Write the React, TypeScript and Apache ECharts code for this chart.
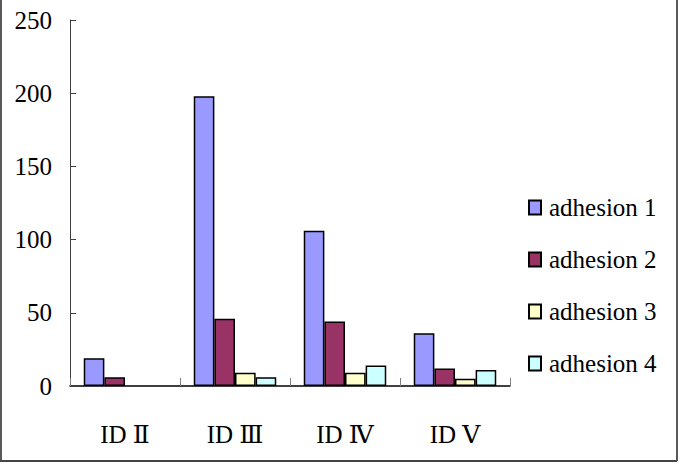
import React, { useEffect, useRef } from "react";
import * as echarts from "echarts";

const categories = ["ID Ⅱ", "ID Ⅲ", "ID Ⅳ", "ID Ⅴ"];
const seriesNames = ["adhesion 1", "adhesion 2", "adhesion 3", "adhesion 4"];
const adhesion1 = [19, 198, 106, 36];
const adhesion2 = [6, 46, 44, 12];
const adhesion3 = [0, 9, 9, 5];
const adhesion4 = [0, 6, 14, 11];
const seriesValues = [adhesion1, adhesion2, adhesion3, adhesion4];
const colors = ["#9999FF", "#993366", "#FFFFCC", "#CCFFFF"];

const FONT = "Liberation Serif, DejaVu Serif, Noto Sans CJK JP";

export default function App() {
  const ref = useRef<HTMLDivElement>(null);
  useEffect(() => {
    if (!ref.current) return;
    const chart = echarts.init(ref.current, null, { renderer: "svg" });
    chart.setOption({
      animation: false,
      backgroundColor: "#ffffff",
      grid: { left: 70, right: 175, top: 20, bottom: 84, containLabel: false },
      legend: {
        orient: "vertical",
        left: 528,
        top: 195,
        padding: 0,
        itemWidth: 12,
        itemHeight: 14,
        itemGap: 27,
        icon: "rect",
        data: seriesNames,
        textStyle: { fontFamily: FONT, fontSize: 25, color: "#000", lineHeight: 25, padding: [0, 0, 0, 3] },
      },
      xAxis: {
        type: "category",
        data: categories,
        axisLine: { show: true, lineStyle: { color: "#000", width: 1.5 } },
        axisTick: { show: true, inside: true, length: 8, alignWithLabel: false, lineStyle: { color: "#808080" } },
        axisLabel: { fontFamily: FONT, fontSize: 25, color: "#000", margin: 36 },
        splitLine: { show: false },
      },
      yAxis: {
        type: "value",
        min: 0,
        max: 250,
        interval: 50,
        axisLine: { show: true, lineStyle: { color: "#404040", width: 1 } },
        axisTick: { show: true, inside: true, length: 6, lineStyle: { color: "#404040" } },
        axisLabel: { fontFamily: FONT, fontSize: 25, color: "#000", margin: 18 },
        splitLine: { show: false },
      },
      series: seriesNames.map((name, i) => ({
        name,
        type: "bar",
        data: seriesValues[i].map((v) => (v === 0 ? null : v)),
        barGap: "0%",
        barCategoryGap: "25%",
        itemStyle: { color: colors[i], borderColor: "#000", borderWidth: 1.5 },
      })),
      graphic: [
        { type: "line", shape: { x1: 1, y1: 0, x2: 1, y2: 461 }, style: { stroke: "#222", lineWidth: 1.5 } },
        { type: "line", shape: { x1: 677, y1: 0, x2: 677, y2: 461 }, style: { stroke: "#222", lineWidth: 1.5 } },
        { type: "line", shape: { x1: 0, y1: 461, x2: 677, y2: 461 }, style: { stroke: "#444", lineWidth: 2 } },
      ],
    });
    return () => chart.dispose();
  }, []);
  return (
    <div
      ref={ref}
      style={{ position: "fixed", left: 0, top: 0, width: 685, height: 470, background: "#fff" }}
    />
  );
}
